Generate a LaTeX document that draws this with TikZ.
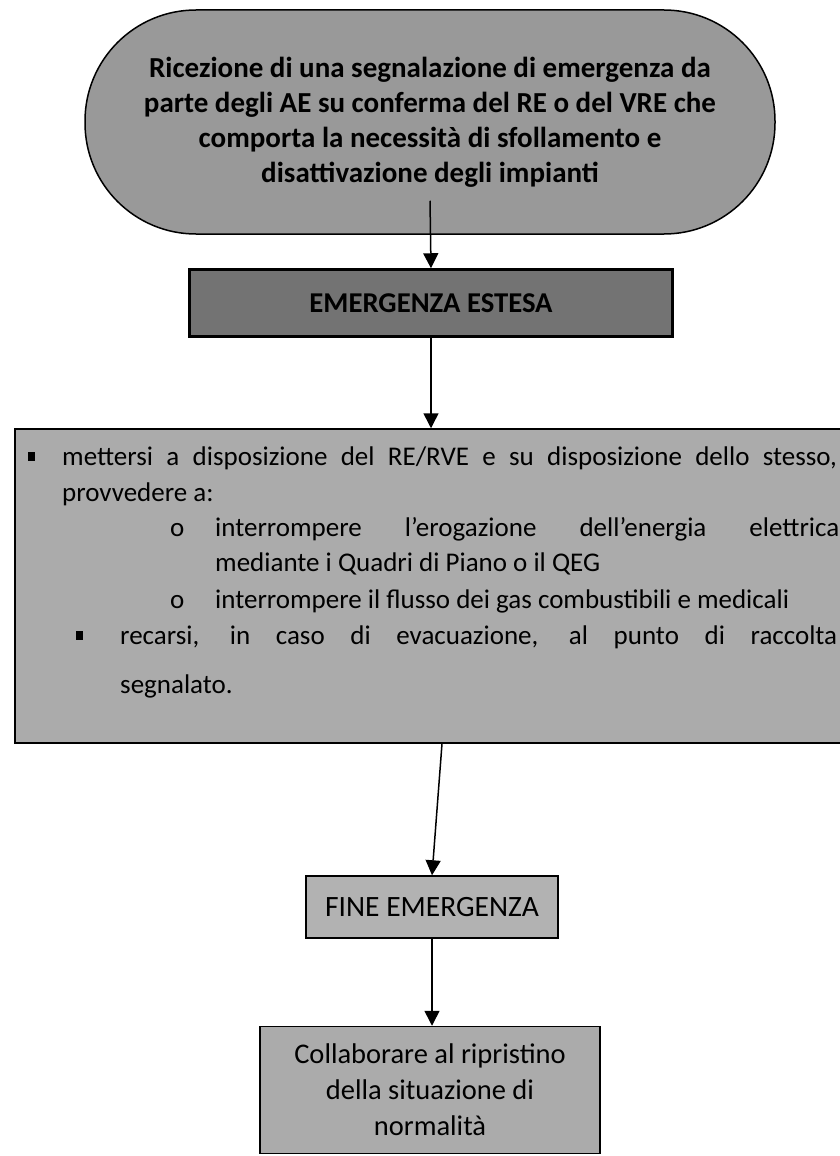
\documentclass[tikz,border=0pt]{standalone}
\usepackage{fontspec}
\setmainfont{Carlito}
\usepackage{tikz}
\usetikzlibrary{arrows.meta,calc}
\newcommand{\quadretto}{\rule[4pt]{7pt}{9pt}}

\begin{document}
\begin{tikzpicture}[x=1pt,y=-1pt,
  casella/.style={draw=black,line width=1.5pt,rectangle,inner sep=0pt},
  riga/.style={anchor=base west,inner sep=0pt,font=\fontsize{27}{36}\selectfont},
  freccia/.style={-{Triangle[width=15pt,length=15pt]},line width=1.5pt}]
  \useasboundingbox (0,0) rectangle (839,1156);
  \node[casella,fill=black!40,rounded corners=111pt,minimum width=690pt,minimum height=224pt,
        align=center,font=\bfseries\fontsize{29}{35}\selectfont] (avvio) at (430,122)
    {Ricezione di una segnalazione di emergenza da\\ parte degli AE su conferma del RE o del VRE che\\
     comporta la necessità di sfollamento e\\ disattivazione degli impianti};
  \node[casella,fill=black!55,line width=2.5pt,minimum width=483pt,minimum height=67pt,
        font=\bfseries\fontsize{28.7}{34}\selectfont] (estesa) at (431,303) {EMERGENZA ESTESA};
  \node[casella,fill=black!33,minimum width=840pt,minimum height=314pt] (azioni) at (435,586) {};
  \node[riga] (r1) at (28,465) {\quadretto\hspace{27pt}\makebox[775pt][s]{mettersi a disposizione del RE/RVE e su disposizione dello stesso,}};
  \node[riga] (r2) at (62,501) {provvedere a:};
  \node[riga] (r3) at (170,536) {\makebox[45pt][l]{o}\makebox[624pt][s]{interrompere l'erogazione dell'energia elettrica}};
  \node[riga] (r4) at (215,571) {mediante i Quadri di Piano o il QEG};
  \node[riga] (r5) at (170,608) {\makebox[45pt][l]{o}interrompere il flusso dei gas combustibili e medicali};
  \node[riga] (r6) at (76,644) {\makebox[44pt][l]{\quadretto}\makebox[717pt][s]{recarsi, in caso di evacuazione, al punto di raccolta}};
  \node[riga] (r7) at (120,693) {segnalato.};
  \node[casella,fill=black!30,minimum width=252pt,minimum height=62pt,
        font=\fontsize{29.5}{34}\selectfont] (fine) at (432,907) {FINE EMERGENZA};
  \node[casella,fill=black!33,minimum width=340pt,minimum height=127pt,align=center,
        font=\fontsize{28.5}{36}\selectfont] (ripristino) at (430,1090)
    {Collaborare al ripristino\\ della situazione di\\ normalità};
  \draw[freccia] ([yshift=34pt]avvio.south) -- (estesa.north);
  \draw[freccia] (estesa.south) -- (estesa.south |- azioni.north);
  \draw[freccia] ([xshift=7pt]azioni.south) -- (fine.north);
  \draw[freccia] (fine.south) -- (fine.south |- ripristino.north);
\end{tikzpicture}
\end{document}
